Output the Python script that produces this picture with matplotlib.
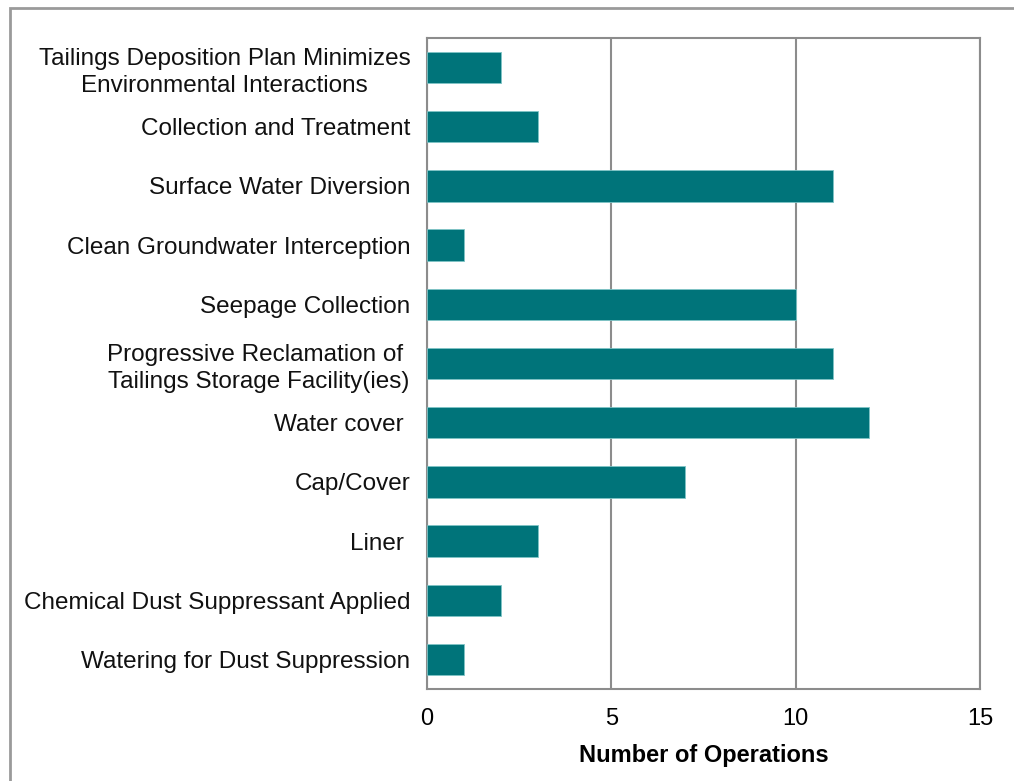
import matplotlib.pyplot as plt
from matplotlib.patches import Rectangle

# categories listed bottom to top
labels = [
    'Watering for Dust Suppression',
    'Chemical Dust Suppressant Applied',
    'Liner ',
    'Cap/Cover',
    'Water cover ',
    'Progressive Reclamation of \nTailings Storage Facility(ies)',
    'Seepage Collection',
    'Clean Groundwater Interception',
    'Surface Water Diversion',
    'Collection and Treatment',
    'Tailings Deposition Plan Minimizes\nEnvironmental Interactions',
]
counts = [1, 2, 3, 7, 12, 11, 10, 1, 11, 3, 2]
xticks = [0, 5, 10, 15]

plt.rcParams['font.family'] = ['Liberation Sans', 'DejaVu Sans']

W, H = 1014, 781
fig = plt.figure(figsize=(W / 100, H / 100), dpi=100)
ax = fig.add_axes([427 / W, 1 - 689 / H, (980 - 427) / W, (689 - 38) / H])

ax.barh(range(len(labels)), counts, height=0.53, color='#00747a',
        edgecolor='#7fc4c6', linewidth=0.6, zorder=3)
ax.set_xlim(0, 15)
ax.set_ylim(-0.5, len(labels) - 0.5)
ax.set_xticks(xticks)
ax.set_yticks(range(len(labels)))
ax.set_yticklabels(labels, fontsize=17.5, color='#111111',
                   multialignment='center', linespacing=1.3)
ax.tick_params(axis='y', length=0, pad=12)
ax.tick_params(axis='x', length=0, pad=14, labelsize=17)
ax.xaxis.grid(True, color='#8c8c8c', linewidth=1.5)
for s in ax.spines.values():
    s.set_color('#8c8c8c')
    s.set_linewidth(1.5)
ax.set_xlabel('Number of Operations', fontsize=17, fontweight='bold', labelpad=10)

# outer chart frame
fig.patches.append(Rectangle((10 / W, -0.1), 1.2, 1 - 8 / H + 0.1,
                             transform=fig.transFigure, fill=False,
                             edgecolor='#9a9a9a', linewidth=2))

fig.savefig('out.png', dpi=100)
